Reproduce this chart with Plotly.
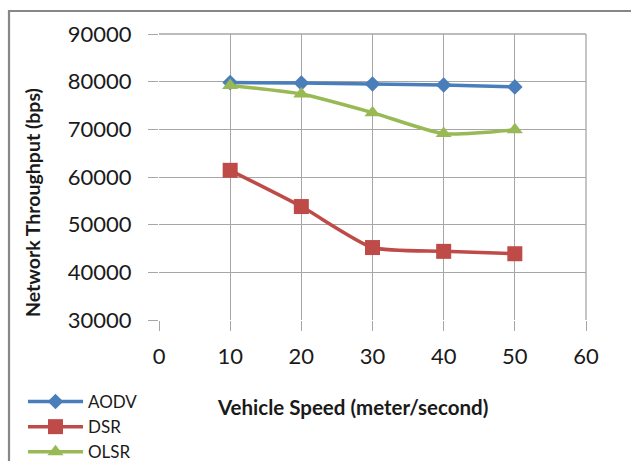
import plotly.graph_objects as go

speed = [10, 20, 30, 40, 50]
aodv = [79800, 79700, 79500, 79300, 78900]
dsr = [61400, 53800, 45200, 44400, 43900]
olsr = [79200, 77400, 73500, 69100, 69900]

x_ticks = [0, 10, 20, 30, 40, 50, 60]
y_ticks = [30000, 40000, 50000, 60000, 70000, 80000, 90000]

FONT = "Lato"
W, H = 631, 461
L, R, T, B = 159, 586, 34, 320

fig = go.Figure()
series = [
    ("AODV", aodv, "#4A7EBB", "diamond", 12),
    ("DSR", dsr, "#BE4B48", "square", 15),
    ("OLSR", olsr, "#98B954", "triangle-up", 14),
]
for name, vals, col, sym, sz in series:
    fig.add_trace(go.Scatter(
        x=speed, y=vals, name=name, mode="lines+markers",
        line=dict(color=col, width=3.5, shape="spline", smoothing=0.6),
        marker=dict(symbol=sym, size=sz, color=col),
    ))

px = lambda p: (p - L) / (R - L)
py = lambda p: (B - p) / (B - T)

fig.update_layout(
    width=W, height=H,
    margin=dict(l=L, r=W - R, t=T, b=H - B, pad=0, autoexpand=False),
    paper_bgcolor="white", plot_bgcolor="white",
    font=dict(family=FONT, color="#1a1a1a"),
    showlegend=True,
    legend=dict(
        xref="container", yref="container",
        x=23 / W, y=1 - 384 / H, xanchor="left", yanchor="top",
        font=dict(size=17, family=FONT, color="#1a1a1a"),
        bgcolor="rgba(0,0,0,0)", itemwidth=55, tracegroupgap=0,
    ),
    xaxis=dict(
        range=[0, 60], tickvals=x_ticks, ticktext=[str(v) for v in x_ticks],
        showgrid=True, gridcolor="#A6A6A6", gridwidth=1.3,
        ticks="outside", ticklen=10, tickcolor="#A6A6A6", tickwidth=1.3,
        tickfont=dict(size=22, family=FONT, color="#1a1a1a"),
        zeroline=False, showline=False, fixedrange=True,
        ticklabelstandoff=7,
    ),
    yaxis=dict(
        range=[30000, 90000], tickvals=y_ticks, ticktext=[str(v) for v in y_ticks],
        showgrid=True, gridcolor="#A6A6A6", gridwidth=1.3,
        ticks="outside", ticklen=10, tickcolor="#A6A6A6", tickwidth=1.3,
        tickfont=dict(size=22, family=FONT, color="#1a1a1a"),
        zeroline=False, showline=False, fixedrange=True,
        ticklabelstandoff=12,
    ),
    shapes=[
        dict(type="rect", xref="paper", yref="paper",
             x0=px(9), x1=px(660), y0=py(490), y1=py(11),
             line=dict(color="#878787", width=2.2), fillcolor="rgba(0,0,0,0)", layer="below"),
        dict(type="line", xref="paper", yref="paper",
             x0=1, x1=1, y0=0, y1=1, line=dict(color="#A6A6A6", width=1.3)),
        dict(type="line", xref="paper", yref="paper",
             x0=0, x1=1, y0=1, y1=1, line=dict(color="#A6A6A6", width=1.3)),
    ],
    annotations=[
        dict(text="<b>Vehicle Speed (meter/second)</b>", xref="paper", yref="paper",
             x=px(352), y=py(407), xanchor="center", yanchor="middle", showarrow=False,
             font=dict(size=20.5, family=FONT, color="#1a1a1a")),
        dict(text="<b>Network Throughput (bps)</b>", xref="paper", yref="paper",
             x=px(33), y=py(203), xanchor="center", yanchor="middle", showarrow=False,
             textangle=-90, font=dict(size=19.5, family=FONT, color="#1a1a1a")),
    ],
)

fig.write_html("out.html")
